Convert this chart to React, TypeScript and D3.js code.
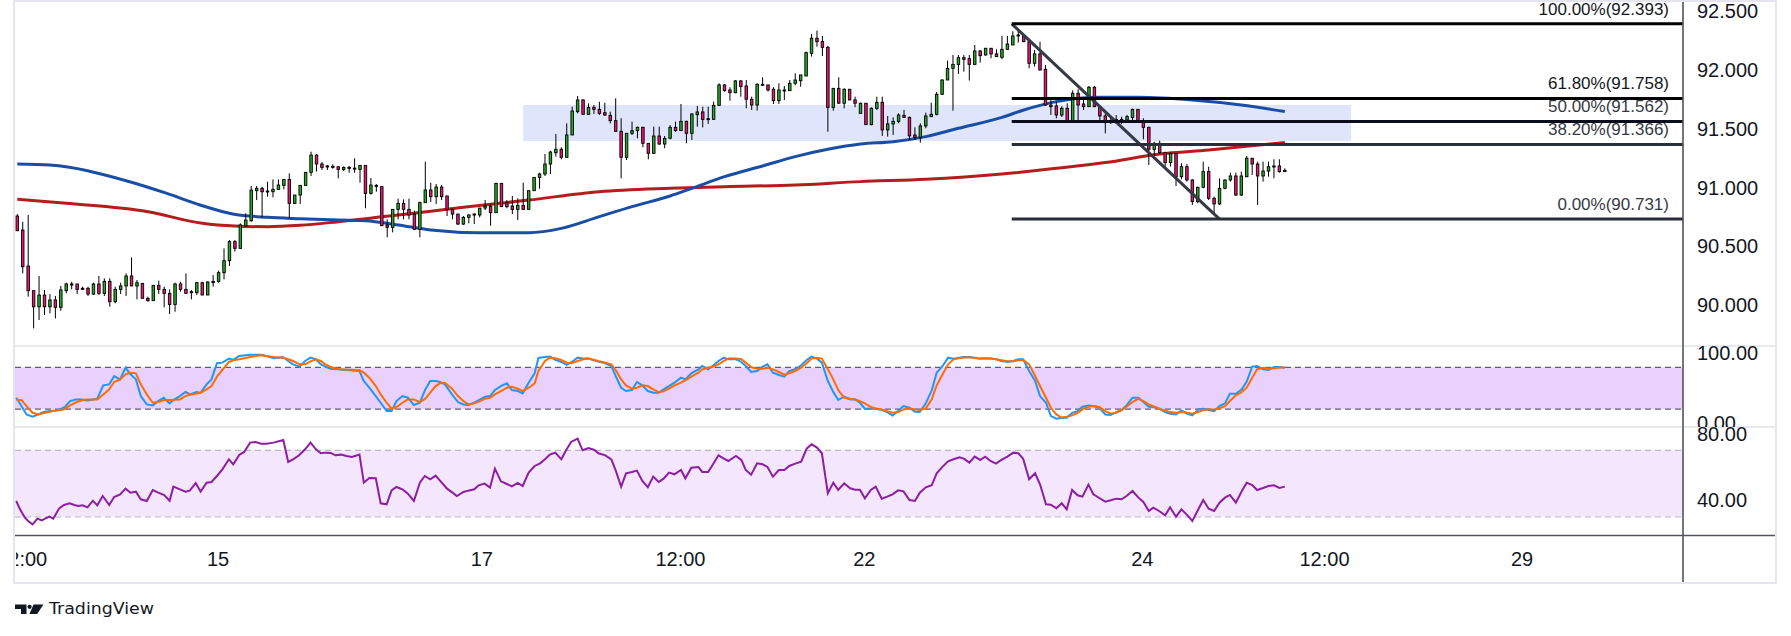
import { useEffect } from "react";
import * as d3 from "d3";

// hourly candles, [open, high, low, close]
const candles: [number, number, number, number][] = [
  [90.757,90.774,90.632,90.632],[90.638,90.709,90.269,90.326],[90.332,90.766,90.071,90.122],[90.122,90.122,89.801,89.985],
  [89.985,90.247,89.872,90.085],[90.085,90.128,89.915,89.985],[89.985,90.093,89.929,90.043],[90.043,90.077,89.886,89.980],
  [89.980,90.162,89.951,90.128],[90.122,90.190,90.099,90.179],[90.179,90.198,90.133,90.170],[90.179,90.179,90.093,90.133],
  [90.142,90.156,90.128,90.133],[90.142,90.156,90.077,90.093],[90.093,90.190,90.085,90.179],[90.179,90.247,90.085,90.099],
  [90.099,90.227,90.077,90.201],[90.201,90.227,89.985,90.028],[90.028,90.156,90.014,90.133],[90.133,90.190,90.093,90.162],
  [90.162,90.269,90.077,90.247],[90.247,90.405,90.162,90.162],[90.162,90.213,90.048,90.190],[90.184,90.184,90.057,90.057],
  [90.057,90.071,90.028,90.037],[90.037,90.167,90.037,90.167],[90.167,90.207,90.093,90.133],[90.133,90.156,89.980,90.099],
  [90.099,90.133,89.923,90.005],[90.005,90.190,89.943,90.179],[90.179,90.198,90.113,90.133],[90.133,90.269,90.099,90.099],
  [90.113,90.128,90.048,90.105],[90.105,90.198,90.085,90.190],[90.190,90.198,90.085,90.085],[90.085,90.201,90.085,90.196],
  [90.190,90.255,90.156,90.201],[90.201,90.292,90.190,90.275],[90.275,90.482,90.218,90.377],[90.377,90.553,90.332,90.539],
  [90.539,90.553,90.454,90.482],[90.482,90.695,90.482,90.681],[90.672,90.780,90.666,90.723],[90.717,91.013,90.709,90.978],
  [90.973,91.013,90.893,90.993],[90.993,91.007,90.746,90.964],[90.970,91.049,90.922,90.964],[90.964,91.069,90.916,90.984],
  [90.984,91.069,90.984,91.021],[91.018,91.069,90.984,91.069],[91.069,91.120,90.737,90.865],[90.865,90.936,90.859,90.936],
  [90.936,91.018,90.859,91.018],[91.018,91.129,91.018,91.129],[91.129,91.305,91.098,91.276],[91.276,91.285,91.135,91.200],
  [91.200,91.217,91.149,91.171],[91.183,91.192,91.149,91.177],[91.180,91.197,91.160,91.175],[91.177,91.177,91.078,91.154],
  [91.154,91.180,91.140,91.171],[91.171,91.183,91.126,91.165],[91.165,91.248,91.126,91.160],[91.154,91.188,91.041,91.188],
  [91.188,91.188,90.823,90.950],[90.950,91.081,90.939,91.021],[91.018,91.029,90.964,91.015],[91.007,91.013,90.675,90.675],
  [90.681,90.729,90.576,90.661],[90.661,90.814,90.618,90.814],[90.814,90.905,90.729,90.865],[90.865,90.899,90.729,90.814],
  [90.814,90.905,90.729,90.766],[90.774,90.803,90.638,90.644],[90.644,90.880,90.576,90.871],[90.871,91.220,90.871,90.979],
  [90.979,91.041,90.876,90.922],[90.922,91.030,90.859,91.004],[91.004,91.021,90.893,90.922],[90.928,90.928,90.757,90.814],
  [90.814,90.822,90.729,90.774],[90.774,90.774,90.681,90.689],[90.689,90.757,90.681,90.746],[90.746,90.774,90.695,90.766],
  [90.774,90.780,90.689,90.766],[90.766,90.825,90.746,90.825],[90.825,90.893,90.808,90.842],[90.842,90.865,90.675,90.786],
  [90.786,91.041,90.786,91.035],[91.035,91.035,90.837,90.837],[90.871,90.893,90.823,90.837],[90.842,90.928,90.774,90.814],
  [90.814,90.908,90.723,90.848],[90.848,91.041,90.808,90.814],[90.814,90.973,90.814,90.973],[90.973,91.086,90.973,91.086],
  [91.086,91.126,90.990,91.115],[91.115,91.285,91.098,91.200],[91.200,91.313,91.115,91.302],[91.296,91.455,91.262,91.325],
  [91.325,91.342,91.240,91.257],[91.257,91.546,91.257,91.447],[91.447,91.688,91.447,91.651],[91.645,91.779,91.631,91.745],
  [91.745,91.751,91.623,91.623],[91.623,91.716,91.617,91.682],[91.682,91.702,91.626,91.665],[91.665,91.730,91.617,91.631],
  [91.637,91.722,91.609,91.617],[91.614,91.645,91.546,91.569],[91.569,91.759,91.478,91.478],[91.478,91.589,91.078,91.257],
  [91.257,91.461,91.234,91.461],[91.461,91.560,91.447,91.484],[91.484,91.518,91.418,91.512],[91.512,91.518,91.342,91.376],
  [91.376,91.376,91.240,91.291],[91.291,91.518,91.285,91.438],[91.438,91.518,91.362,91.370],[91.370,91.438,91.334,91.418],
  [91.419,91.532,91.410,91.512],[91.512,91.561,91.475,91.484],[91.484,91.711,91.484,91.563],[91.563,91.569,91.376,91.461],
  [91.461,91.631,91.404,91.626],[91.620,91.694,91.518,91.643],[91.643,91.688,91.512,91.580],[91.580,91.688,91.541,91.586],
  [91.580,91.731,91.580,91.699],[91.699,91.887,91.694,91.873],[91.873,91.881,91.816,91.824],[91.830,91.853,91.739,91.807],
  [91.807,91.915,91.802,91.907],[91.907,91.915,91.773,91.859],[91.864,91.915,91.674,91.751],[91.751,91.773,91.660,91.702],
  [91.702,91.887,91.654,91.878],[91.878,91.938,91.864,91.870],[91.873,91.873,91.816,91.830],[91.836,91.853,91.711,91.739],
  [91.739,91.887,91.711,91.830],[91.830,91.864,91.745,91.824],[91.824,91.915,91.824,91.887],[91.887,91.972,91.870,91.915],
  [91.909,91.958,91.858,91.958],[91.949,92.156,91.949,92.148],[92.142,92.307,92.114,92.270],[92.270,92.335,92.199,92.241],
  [92.244,92.290,92.119,92.193],[92.193,92.205,91.475,91.682],[91.682,91.844,91.654,91.844],[91.844,91.938,91.717,91.717],
  [91.717,91.844,91.674,91.836],[91.836,91.836,91.745,91.745],[91.745,91.773,91.683,91.717],[91.631,91.722,91.631,91.717],
  [91.717,91.717,91.535,91.535],[91.535,91.682,91.529,91.674],[91.674,91.773,91.660,91.725],[91.725,91.773,91.439,91.490],
  [91.490,91.609,91.433,91.541],[91.541,91.597,91.447,91.563],[91.563,91.631,91.546,91.617],[91.614,91.660,91.597,91.597],
  [91.597,91.603,91.404,91.439],[91.447,91.512,91.404,91.427],[91.427,91.546,91.382,91.524],[91.524,91.637,91.504,91.609],
  [91.603,91.722,91.603,91.623],[91.623,91.813,91.614,91.793],[91.793,91.921,91.787,91.915],[91.915,92.080,91.915,92.014],
  [92.014,92.128,91.654,92.048],[92.048,92.128,91.966,92.105],[92.105,92.128,91.986,92.091],[92.097,92.128,91.910,92.048],
  [92.048,92.213,92.048,92.162],[92.162,92.171,92.063,92.122],[92.128,92.185,92.122,92.185],[92.185,92.185,92.100,92.137],
  [92.137,92.176,92.114,92.114],[92.108,92.290,92.091,92.176],[92.176,92.290,92.170,92.221],[92.213,92.330,92.213,92.290],
  [92.290,92.335,92.233,92.298],[92.290,92.307,92.241,92.241],[92.241,92.241,92.014,92.057],[92.057,92.171,92.029,92.137],
  [92.137,92.241,91.995,92.000],[92.006,92.043,91.694,91.702],[91.702,91.759,91.617,91.688],[91.694,91.731,91.589,91.617],
  [91.617,91.691,91.600,91.674],[91.674,91.717,91.561,91.561],[91.561,91.827,91.561,91.802],[91.802,91.836,91.561,91.702],
  [91.711,91.745,91.660,91.688],[91.688,91.864,91.688,91.853],[91.853,91.864,91.683,91.688],[91.688,91.694,91.561,91.609],
  [91.609,91.631,91.461,91.552],[91.561,91.603,91.541,91.552],[91.561,91.617,91.541,91.580],[91.580,91.603,91.541,91.572],
  [91.575,91.617,91.560,91.603],[91.597,91.671,91.560,91.665],[91.665,91.665,91.558,91.569],[91.569,91.589,91.410,91.512],
  [91.512,91.518,91.192,91.325],[91.325,91.390,91.268,91.376],[91.376,91.399,91.285,91.297],[91.297,91.305,91.178,91.212],
  [91.212,91.305,91.178,91.291],[91.291,91.291,91.013,91.092],[91.092,91.206,91.070,91.177],[91.177,91.200,91.050,91.064],
  [91.064,91.070,90.851,90.880],[90.880,91.007,90.865,91.002],[91.002,91.220,90.993,91.135],[91.135,91.177,90.894,90.908],
  [90.908,90.922,90.766,90.860],[90.860,91.078,90.851,90.993],[90.993,91.070,90.985,91.064],[91.064,91.126,91.050,91.098],
  [91.098,91.126,90.928,90.936],[90.936,91.135,90.928,91.098],[91.092,91.268,91.087,91.249],[91.249,91.249,91.107,91.200],
  [91.200,91.220,90.851,91.098],[91.098,91.220,91.050,91.140],[91.140,91.220,91.092,91.177],[91.183,91.240,91.078,91.177],
  [91.183,91.240,91.126,91.135],[91.135,91.163,91.135,91.146],
];

// moving averages, [candle index, value]
const maFast: [number, number][] = [
  [0,91.200],[6,91.191],[20,91.058],[27.5,90.950],[33.6,90.851],[39.6,90.774],[46,90.746],[52,90.734],[59,90.723],
  [64,90.718],[70,90.681],[76,90.638],[85,90.615],[94,90.615],[100,90.652],[107,90.752],[113,90.837],[120,90.928],
  [124,90.993],[130,91.092],[137,91.183],[143,91.263],[149,91.325],[155,91.370],[161,91.390],[167,91.433],[173,91.504],
  [181,91.597],[185,91.660],[191,91.731],[199,91.768],[206,91.768],[216,91.745],[225,91.702],[233,91.646],
];
const maSlow: [number, number][] = [
  [0,90.899],[9,90.865],[24,90.794],[34,90.695],[40,90.672],[46,90.666],[52,90.678],[59,90.709],[70,90.766],[82,90.831],
  [94,90.893],[107,90.964],[120,90.993],[130,91.007],[143,91.021],[155,91.050],[167,91.070],[181,91.115],[191,91.163],
  [200,91.212],[210,91.285],[219,91.319],[233,91.382],
];

const stochK: [number, number][] = [
  [-0.2,36.3],[0.6,26.7],[1.7,12.3],[2.8,9.0],[3.9,12.3],[4.8,15.7],[5.9,17.1],[6.9,18.1],[7.9,19.5],[8.8,23.4],[9.7,31.5],
  [10.8,33.9],[11.8,33.9],[12.9,32.5],[13.9,33.9],[14.7,34.9],[15.8,54.1],[16.9,55.5],[17.8,67.5],[18.9,62.7],[19.9,79.5],
  [20.8,69.9],[21.8,62.7],[22.7,38.7],[23.8,26.7],[24.9,25.3],[25.9,31.5],[26.9,36.3],[28.0,28.2],[28.7,33.0],[29.9,38.7],
  [30.9,44.5],[31.8,41.1],[32.9,44.5],[33.7,43.5],[34.8,55.5],[35.7,62.7],[36.7,85.8],[37.7,86.7],[38.9,92.5],[39.7,90.6],
  [40.8,96.3],[42.8,98.2],[44.8,98.2],[45.8,96.3],[47.1,92.9],[48.9,94.4],[49.8,89.1],[50.7,84.3],[51.9,81.0],[52.9,89.1],
  [53.9,93.9],[54.9,91.5],[55.8,84.3],[56.6,81.0],[57.6,78.1],[60.6,76.2],[62.9,74.7],[63.7,60.3],[64.7,50.7],[65.9,38.7],
  [66.8,29.1],[67.9,17.1],[68.8,17.1],[69.7,31.5],[70.8,38.7],[71.8,36.3],[72.9,25.8],[74.0,29.1],[75.0,48.3],[75.9,60.3],
  [76.9,60.3],[77.7,58.9],[78.6,55.5],[79.9,41.1],[81.0,30.1],[82.0,26.7],[82.9,25.8],[84.0,29.1],[85.1,33.9],[86.0,37.8],
  [86.9,38.7],[87.8,47.4],[88.9,53.1],[90.0,57.0],[90.9,47.4],[92.0,45.9],[92.9,42.6],[94.0,57.9],[95.1,71.4],[95.8,93.4],
  [97.0,94.9],[97.9,95.4],[98.9,90.6],[100.0,87.7],[101.0,83.4],[101.9,87.7],[103.0,93.9],[104.1,92.5],[105.0,92.5],
  [106.1,89.6],[106.8,88.2],[108.1,85.8],[109.2,81.9],[110.0,67.5],[111.0,50.7],[111.9,45.9],[113.0,47.4],[113.9,58.9],
  [114.9,54.1],[115.9,45.9],[116.9,43.5],[117.9,43.5],[118.8,48.3],[119.8,53.1],[120.8,57.9],[122.0,65.1],[122.8,62.7],
  [123.9,71.4],[125.2,77.1],[125.9,81.9],[127.0,77.1],[128.0,82.9],[128.9,89.1],[129.9,93.9],[130.7,91.5],[132.1,91.5],
  [133.1,87.7],[133.9,81.9],[134.9,73.3],[136.0,74.7],[137.0,81.0],[137.9,84.3],[138.9,72.3],[140.0,69.0],[141.0,66.6],
  [141.9,74.7],[143.0,77.1],[144.1,82.9],[145.1,90.6],[146.0,95.4],[147.0,92.5],[147.9,86.7],[149.0,60.3],[150.0,44.5],
  [150.9,33.0],[152.0,37.8],[153.1,33.9],[154.0,33.9],[154.9,29.1],[155.8,20.5],[156.9,20.5],[157.8,20.5],[158.9,18.6],
  [159.9,15.7],[160.9,10.9],[161.9,17.1],[162.9,24.3],[164.0,21.9],[165.0,16.2],[165.9,15.7],[167.0,28.2],[168.1,46.9],
  [169.0,72.3],[170.1,81.9],[171.1,93.9],[172.1,92.5],[173.2,93.9],[174.0,94.9],[175.0,94.9],[176.0,93.9],[177.0,92.5],
  [177.9,92.9],[178.9,92.5],[179.9,91.5],[180.9,89.1],[182.0,87.7],[183.1,89.1],[184.0,91.5],[184.9,91.5],[186.0,74.7],
  [187.1,60.3],[188.0,38.7],[189.1,29.1],[190.0,9.9],[191.0,6.1],[192.0,7.5],[192.9,7.5],[193.9,14.7],[194.9,17.1],
  [195.8,23.4],[196.9,25.3],[197.8,24.3],[198.9,21.9],[200.0,12.3],[201.0,11.4],[202.0,15.7],[203.0,18.6],[203.9,25.3],
  [205.0,36.3],[206.1,36.3],[207.0,30.1],[208.0,23.4],[208.8,22.9],[209.9,20.5],[211.0,15.7],[211.9,13.3],[213.0,12.3],
  [214.0,18.1],[215.1,13.3],[216.0,10.9],[217.1,19.5],[218.0,20.5],[219.0,18.6],[220.0,17.1],[221.0,24.3],[222.0,28.2],
  [222.9,42.1],[224.0,42.1],[225.1,48.3],[226.0,59.4],[227.0,81.0],[227.9,81.9],[229.0,77.1],[230.0,76.2],[231.0,80.5],
  [232.0,80.5],[233.0,79.5],
];
const stochD: [number, number][] = [
  [-0.2,33.9],[0.8,32.9],[1.7,24.3],[2.8,14.7],[3.9,12.3],[5.1,14.7],[6.6,17.1],[8.5,19.5],[9.7,25.3],[10.9,30.1],
  [12.5,33.9],[14.7,33.9],[15.8,41.1],[16.9,48.3],[17.8,58.9],[18.9,62.7],[19.9,69.9],[20.8,72.3],[21.8,71.4],[22.7,55.5],
  [23.8,41.1],[24.9,29.1],[25.9,30.1],[26.9,33.0],[28.0,33.0],[29.9,33.9],[30.9,38.7],[31.8,40.6],[33.7,43.5],[34.8,48.3],
  [35.7,53.1],[36.7,66.6],[37.7,76.2],[38.9,87.7],[39.7,90.1],[40.8,91.5],[42.8,94.9],[44.8,97.3],[47.1,94.9],[48.9,93.9],
  [49.8,91.5],[50.7,89.1],[51.9,84.3],[52.9,84.3],[53.9,88.6],[54.9,91.5],[55.8,89.1],[56.6,84.3],[57.6,80.5],[59.3,77.1],
  [62.9,75.7],[63.7,72.3],[64.7,65.1],[65.9,53.1],[66.8,41.1],[67.9,29.1],[68.8,20.5],[69.7,22.9],[70.8,29.1],[71.8,33.9],
  [72.9,33.9],[74.0,30.1],[75.0,34.9],[75.9,43.5],[76.9,53.1],[77.7,57.0],[78.6,57.9],[79.9,49.3],[81.0,38.7],[82.0,31.5],
  [82.9,26.7],[84.0,28.2],[85.1,31.5],[86.0,34.9],[86.9,36.3],[87.8,41.1],[88.9,45.9],[90.0,50.7],[90.9,52.2],[92.0,49.3],
  [92.9,45.9],[94.0,50.7],[95.1,57.0],[95.8,74.7],[97.0,89.1],[97.9,93.9],[98.9,92.9],[100.0,90.6],[101.0,86.7],[101.9,85.8],
  [103.0,89.1],[104.1,91.5],[105.0,92.5],[106.1,90.6],[106.8,89.1],[108.1,86.7],[109.2,84.3],[110.0,76.2],[111.0,62.7],
  [111.9,54.1],[113.0,49.3],[113.9,50.7],[114.9,54.1],[115.9,53.1],[116.9,48.3],[117.9,44.5],[118.8,45.4],[119.8,49.3],
  [120.8,54.1],[122.0,57.9],[122.8,61.3],[123.9,66.6],[125.2,72.3],[125.9,77.1],[127.0,79.5],[128.0,81.0],[128.9,84.3],
  [129.9,89.1],[130.7,92.5],[132.1,92.5],[133.1,91.5],[133.9,86.7],[134.9,80.5],[136.0,78.1],[137.0,78.1],[137.9,79.5],
  [138.9,77.1],[140.0,73.3],[141.0,69.4],[141.9,71.4],[143.0,74.7],[144.1,79.5],[145.1,85.8],[146.0,92.5],[147.0,93.9],
  [147.9,92.5],[149.0,77.1],[150.0,62.7],[150.9,47.4],[152.0,36.3],[153.1,34.9],[154.0,33.9],[154.9,31.5],[155.8,28.2],
  [156.9,22.9],[157.8,21.0],[158.9,19.5],[159.9,17.1],[160.9,14.7],[161.9,15.7],[162.9,19.5],[164.0,21.0],[165.0,19.5],
  [165.9,18.6],[167.0,21.0],[168.1,33.9],[169.0,54.1],[170.1,69.9],[171.1,84.3],[172.1,91.5],[173.2,93.4],[174.0,93.9],
  [175.0,94.4],[176.0,93.4],[177.0,92.5],[177.9,92.5],[178.9,92.5],[179.9,91.5],[180.9,90.1],[182.0,88.6],[183.1,88.6],
  [184.0,90.1],[184.9,90.6],[186.0,84.3],[187.1,67.5],[188.0,53.1],[189.1,36.3],[190.0,21.9],[191.0,12.3],[192.0,7.5],
  [192.9,9.0],[193.9,10.9],[194.9,14.7],[195.8,19.5],[196.9,23.4],[197.8,24.3],[198.9,22.9],[200.0,17.1],[201.0,13.3],
  [202.0,14.7],[203.0,18.6],[203.9,23.4],[205.0,30.1],[206.1,34.9],[207.0,31.5],[208.0,26.7],[208.8,24.3],[209.9,20.5],
  [211.0,18.1],[211.9,15.7],[213.0,14.7],[214.0,15.7],[215.1,14.7],[216.0,13.3],[217.1,15.7],[218.0,18.6],[219.0,19.5],
  [220.0,19.5],[221.0,21.0],[222.0,24.3],[222.9,31.5],[224.0,39.7],[225.1,44.5],[226.0,50.7],[227.0,65.1],[227.9,77.1],
  [229.0,79.5],[230.0,78.1],[231.0,78.6],[232.0,79.5],[233.0,80.0],
];
const rsi: [number, number][] = [
  [-0.2,39.6],[0.5,34.6],[1.4,29.6],[2.0,27.6],[2.8,25.6],[3.7,29.0],[4.5,28.0],[5.1,29.0],[5.9,30.2],[6.6,29.0],[7.7,35.2],
  [8.6,37.2],[9.6,38.2],[10.5,37.2],[11.2,36.6],[12.0,37.0],[12.9,35.8],[13.9,39.8],[14.7,37.0],[15.7,42.6],[16.9,37.2],
  [17.8,42.0],[18.9,43.6],[19.9,47.0],[20.8,44.6],[21.8,45.2],[22.7,40.6],[23.8,39.6],[24.9,46.2],[25.9,44.6],[27.0,43.2],
  [28.0,39.8],[28.7,48.2],[29.9,46.6],[30.9,45.2],[31.7,45.8],[32.8,50.4],[33.7,45.2],[34.8,50.6],[35.7,51.0],[36.7,54.6],
  [37.7,58.6],[38.9,64.6],[39.7,61.6],[40.8,67.2],[41.7,69.0],[42.8,74.6],[43.8,75.0],[44.8,74.0],[45.8,74.0],[47.1,74.6],
  [48.9,76.2],[49.8,63.0],[50.7,64.6],[51.8,67.0],[52.9,70.6],[53.9,74.6],[54.9,70.6],[55.8,68.2],[56.6,68.6],[57.6,68.4],
  [58.5,67.0],[59.5,67.4],[60.5,66.6],[61.5,66.0],[62.9,67.4],[63.7,50.6],[64.7,53.4],[65.9,53.2],[66.8,38.2],[67.9,37.6],
  [68.8,46.0],[69.7,48.0],[70.8,46.6],[71.8,44.0],[72.9,39.6],[74.0,50.6],[74.9,54.6],[75.9,52.6],[76.9,54.8],[77.7,51.8],
  [79.0,47.0],[80.0,44.6],[80.8,42.6],[82.0,45.0],[82.9,45.8],[84.0,46.6],[84.8,49.0],[85.9,50.0],[86.9,47.6],[87.8,59.0],
  [88.9,51.4],[90.0,49.8],[90.9,48.4],[92.0,50.4],[92.9,48.6],[94.0,56.6],[95.1,60.6],[96.1,62.2],[97.0,64.6],[97.9,67.4],
  [98.9,68.6],[100.0,64.6],[100.8,69.6],[101.8,75.0],[103.0,77.0],[103.9,70.0],[105.0,71.4],[106.1,70.2],[106.8,68.2],
  [108.1,67.0],[109.2,64.6],[110.0,58.0],[111.0,48.2],[111.9,56.2],[113.0,57.0],[113.9,57.8],[114.9,51.6],[115.9,47.8],
  [116.9,54.2],[117.9,51.0],[118.8,53.0],[119.8,56.6],[120.8,55.6],[122.0,58.2],[122.8,53.2],[123.9,59.6],[125.2,60.0],
  [125.9,57.0],[127.0,57.0],[128.0,62.2],[128.9,67.0],[129.9,65.0],[130.7,63.6],[132.1,66.6],[133.1,64.2],[133.9,58.2],
  [134.9,55.4],[136.0,62.2],[137.0,61.6],[137.9,60.0],[138.9,54.2],[140.0,58.2],[141.0,58.2],[141.9,60.6],[143.0,62.0],
  [144.1,63.2],[145.1,71.0],[146.0,73.6],[147.0,71.6],[147.9,68.2],[149.0,44.2],[150.0,50.6],[150.9,46.2],[152.0,50.2],
  [153.1,47.2],[154.0,46.4],[154.9,46.4],[155.8,41.2],[156.9,46.2],[157.8,48.2],[158.9,41.0],[159.9,42.2],[160.9,43.6],
  [161.9,46.0],[162.9,45.4],[164.0,40.2],[165.0,39.6],[165.9,44.6],[167.0,47.8],[168.1,49.0],[169.0,56.2],[170.1,60.2],
  [171.1,63.4],[172.1,64.6],[173.2,65.8],[174.0,65.0],[175.0,62.6],[176.0,66.2],[177.0,64.2],[177.9,66.2],[178.9,63.6],
  [179.9,62.0],[180.9,64.2],[182.0,66.2],[183.1,68.6],[184.0,68.2],[184.9,65.0],[186.0,52.6],[187.1,56.2],[188.0,49.6],
  [189.1,37.6],[190.0,37.4],[191.0,35.2],[192.0,38.2],[192.9,34.6],[193.9,46.2],[194.9,43.0],[195.8,42.2],[196.9,49.4],
  [197.8,43.6],[198.9,41.4],[200.0,39.2],[201.0,40.0],[202.0,41.0],[203.0,40.6],[203.9,42.6],[205.0,45.6],[206.1,41.6],
  [207.0,39.0],[208.0,33.6],[208.8,35.6],[209.9,33.6],[211.0,31.0],[211.9,35.8],[213.0,30.2],[214.0,34.6],[215.1,31.0],
  [216.0,27.6],[217.1,34.6],[218.0,40.2],[219.0,35.0],[220.0,33.6],[221.0,38.6],[222.0,41.6],[222.9,43.2],[224.0,38.6],
  [225.1,45.6],[226.0,50.6],[227.0,49.2],[227.9,46.2],[229.0,47.4],[230.0,48.6],[231.0,49.0],[232.0,47.4],[233.0,48.2],
];

// fibonacci retracement drawn from the swing high to the swing low
const fibStart = 182.8;
const fibEnd = 221.0;
const fibLevels = [
  { label: "100.00%(92.393)", price: 92.393, color: "#000000" },
  { label: "61.80%(91.758)", price: 91.758, color: "#000000" },
  { label: "50.00%(91.562)", price: 91.562, color: "#0b0e1a" },
  { label: "38.20%(91.366)", price: 91.366, color: "#2a2e39" },
  { label: "0.00%(90.731)", price: 90.731, color: "#2a2e39" },
];
const zone = { from: 93.0, to: 245.2, top: 91.702, bottom: 91.396 };

const priceTicks = [90, 90.5, 91, 91.5, 92, 92.5];
const timeTickIdx = [0.9, 36.9, 85.4, 121.9, 155.7, 206.8, 240.3, 276.6];
const timeTickLabels = ["12:00", "15", "17", "12:00", "22", "24", "12:00", "29"];

const W = 1791;
const H = 636;
const L = 15;
const R = 1683;
const FR = 1776;
const TOP = 1;
const MAIN_B = 346;
const STOCH_B = 427;
const TIME_Y = 535.5;
const FRAME_B = 583;
const FONT = "'Liberation Sans', Arial, sans-serif";
const TXT = "#131722";

export default function App() {
  useEffect(() => {
    document.body.style.margin = "0";
  }, []);

  const x = d3.scaleLinear().domain([0, 233]).range([17.3, 17.3 + 5.44 * 233]);
  const y = d3.scaleLinear().domain([90, 92.5]).range([305, 11.25]);
  const ys = d3.scaleLinear().domain([0, 100]).range([423, 353.4]);
  const yr = d3.scaleLinear().domain([30, 70]).range([517, 450.3]);

  const maLine = d3
    .line<[number, number]>()
    .x((d) => x(d[0]))
    .y((d) => y(d[1]))
    .curve(d3.curveMonotoneX);
  const kLine = d3.line<[number, number]>().x((d) => x(d[0])).y((d) => ys(d[1]));
  const rLine = d3.line<[number, number]>().x((d) => x(d[0])).y((d) => yr(d[1]));

  const bodyW = 2.5;

  return (
    <svg width={W} height={H} style={{ display: "block", background: "#fff" }}>
      <defs>
        <clipPath id="main">
          <rect x={L} y={TOP} width={R - L} height={MAIN_B - TOP} />
        </clipPath>
        <clipPath id="stoch">
          <rect x={L} y={MAIN_B} width={R - L} height={STOCH_B - MAIN_B} />
        </clipPath>
        <clipPath id="rsi">
          <rect x={L} y={STOCH_B} width={R - L} height={TIME_Y - STOCH_B} />
        </clipPath>
        <clipPath id="timeaxis">
          <rect x={L + 1} y={TIME_Y} width={R - L} height={FRAME_B - TIME_Y} />
        </clipPath>
        <clipPath id="stochaxis">
          <rect x={R} y={MAIN_B} width={FR - R} height={STOCH_B - MAIN_B} />
        </clipPath>
      </defs>

      {/* main pane */}
      <g clipPath="url(#main)">
        <rect
          x={x(zone.from)}
          y={y(zone.top)}
          width={x(zone.to) - x(zone.from)}
          height={y(zone.bottom) - y(zone.top)}
          fill="#dfe6fc"
        />
        <path d={maLine(maSlow) ?? ""} fill="none" stroke="#b71c1c" strokeWidth={3} />
        <path d={maLine(maFast) ?? ""} fill="none" stroke="#1a4da6" strokeWidth={3} />
        {candles.map(([o, h, l, c], i) => {
          const cx = x(i);
          const top = y(Math.max(o, c));
          const bh = Math.max(y(Math.min(o, c)) - top, 1);
          return (
            <g key={i}>
              <line x1={cx} x2={cx} y1={y(h)} y2={y(l)} stroke="#000" strokeWidth={1} />
              <rect
                x={cx - bodyW / 2}
                y={top}
                width={bodyW}
                height={bh}
                fill={c >= o ? "#22ab22" : "#ec1572"}
                stroke="#000"
                strokeWidth={0.9}
              />
            </g>
          );
        })}
        <line
          x1={x(fibStart)}
          y1={y(fibLevels[0].price)}
          x2={x(fibEnd)}
          y2={y(fibLevels[4].price)}
          stroke="#363a45"
          strokeWidth={3}
        />
        {fibLevels.map((f) => (
          <g key={f.label}>
            <line x1={x(fibStart)} x2={R} y1={y(f.price)} y2={y(f.price)} stroke={f.color} strokeWidth={3} />
            <text
              x={1669}
              y={y(f.price) - 14.5}
              textAnchor="end"
              dominantBaseline="central"
              fontFamily={FONT}
              fontSize={17}
              fill={f.color === "#000000" ? TXT : "#363a45"}
            >
              {f.label}
            </text>
          </g>
        ))}
      </g>

      {/* stochastic RSI pane */}
      <g clipPath="url(#stoch)">
        <rect x={L} y={ys(80)} width={R - L} height={ys(20) - ys(80)} fill="#ead0fd" />
        {[80, 20].map((v) => (
          <line key={v} x1={L} x2={R} y1={ys(v)} y2={ys(v)} stroke="#5d606b" strokeDasharray="6 4" strokeWidth={1.2} />
        ))}
        <path d={kLine(stochK) ?? ""} fill="none" stroke="#2196f3" strokeWidth={2} />
        <path d={kLine(stochD) ?? ""} fill="none" stroke="#ff6d00" strokeWidth={2} />
      </g>

      {/* RSI pane */}
      <g clipPath="url(#rsi)">
        <rect x={L} y={yr(70)} width={R - L} height={yr(30) - yr(70)} fill="#f4e6fd" />
        {[70, 30].map((v) => (
          <line key={v} x1={L} x2={R} y1={yr(v)} y2={yr(v)} stroke="#b8b8be" strokeDasharray="6 4" strokeWidth={1.2} />
        ))}
        <path d={rLine(rsi) ?? ""} fill="none" stroke="#8b1fa0" strokeWidth={2} />
      </g>

      {/* separators, frame and axes */}
      <line x1={L} x2={FR} y1={MAIN_B} y2={MAIN_B} stroke="#e0e3eb" strokeWidth={1.5} />
      <line x1={L} x2={FR} y1={STOCH_B} y2={STOCH_B} stroke="#e0e3eb" strokeWidth={1.5} />
      <line x1={L} x2={FR} y1={TIME_Y} y2={TIME_Y} stroke="#50535e" strokeWidth={1.6} />
      <line x1={R} x2={R} y1={TOP} y2={FRAME_B} stroke="#50535e" strokeWidth={1.6} />
      <rect x={L - 1} y={TOP} width={FR - L + 1} height={FRAME_B - TOP} fill="none" stroke="#e4e5ee" strokeWidth={2} />

      <g fontFamily={FONT} fontSize={20} fill={TXT}>
        {priceTicks.map((p) => (
          <text key={p} x={1697} y={y(p)} dominantBaseline="central">
            {d3.format(".3f")(p)}
          </text>
        ))}
        <g clipPath="url(#stochaxis)">
          {[100, 0].map((v) => (
            <text key={v} x={1697} y={ys(v)} dominantBaseline="central">
              {d3.format(".2f")(v)}
            </text>
          ))}
        </g>
        {[80, 40].map((v) => (
          <text key={v} x={1697} y={yr(v)} dominantBaseline="central">
            {d3.format(".2f")(v)}
          </text>
        ))}
        <g clipPath="url(#timeaxis)">
          {timeTickIdx.map((t, k) => (
            <text key={k} x={x(t)} y={559} textAnchor="middle" dominantBaseline="central">
              {timeTickLabels[k]}
            </text>
          ))}
        </g>
      </g>

      {/* watermark */}
      <g fill={TXT}>
        <path d="M15,604.5 h11.5 v9.5 h-5.5 v-5 h-6 z" />
        <circle cx={29.6} cy={606.8} r={2.1} />
        <path d="M33.5,604.5 h10 l-6.4,9.5 h-7.6 z" />
        <text
          x={49}
          y={614}
          fontFamily="'DejaVu Sans', sans-serif"
          fontSize={16}
          textLength={105}
          lengthAdjust="spacingAndGlyphs"
        >
          TradingView
        </text>
      </g>
    </svg>
  );
}
